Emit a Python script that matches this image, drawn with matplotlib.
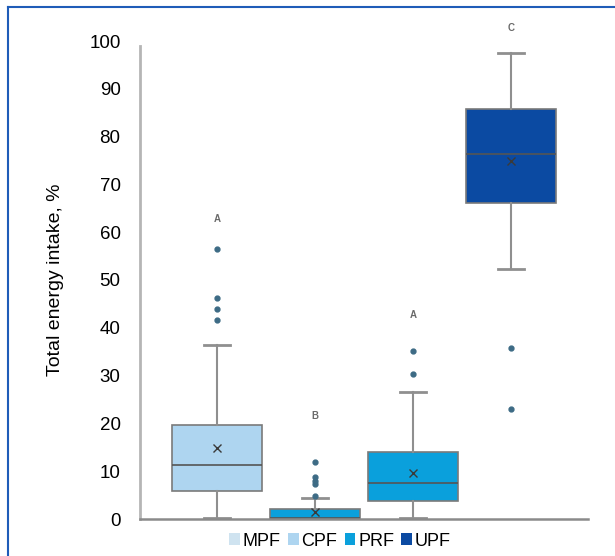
import numpy as np
import matplotlib.pyplot as plt
from matplotlib.patches import Patch
from matplotlib.lines import Line2D

plt.rcParams['font.family'] = ['Liberation Sans', 'DejaVu Sans']

groups = ['MPF', 'CPF', 'PRF', 'UPF']
q1 = [5.9, 0.0, 3.8, 66.2]
med = [11.3, 0.3, 7.6, 76.4]
q3 = [19.7, 2.0, 14.0, 85.7]
means = [14.9, 1.5, 9.6, 74.9]
whis_lo = [0.3, 0.0, 0.3, 52.3]
whis_hi = [36.3, 4.3, 26.6, 97.4]
fliers = [[41.6, 43.9, 46.3, 56.4],
          [4.8, 7.3, 8.0, 8.7, 12.0],
          [30.3, 35.1],
          [23.0, 35.8]]
letters = ['A', 'B', 'A', 'C']
letter_y = [62.8, 21.6, 42.7, 102.8]

box_colors = ['#aed5f0', '#0aa0dc', '#0aa0dc', '#0b4aa2']
legend_colors = ['#cfe3f0', '#aed5f0', '#0aa0dc', '#0b4aa2']

fig = plt.figure(figsize=(6.15, 5.56), dpi=100)
ax = fig.add_axes([140/615, 1-519/556, 448/615, 478/556])

stats = []
for i in range(len(groups)):
    stats.append(dict(q1=q1[i], med=med[i], q3=q3[i], mean=means[i],
                      whislo=whis_lo[i], whishi=whis_hi[i], fliers=fliers[i]))

pos = np.arange(1, len(groups)+1)
bp = ax.bxp(stats, positions=pos, widths=0.92, patch_artist=True,
            showmeans=True,
            boxprops=dict(edgecolor='#7a7a7a', linewidth=1.2),
            medianprops=dict(color='#555555', linewidth=1.2),
            whiskerprops=dict(color='#8f8f8f', linewidth=1.5),
            capprops=dict(color='#8f8f8f', linewidth=2.0),
            capwidths=0.27,
            meanprops=dict(marker='x', markeredgecolor='#3a3a3a', markersize=6,
                           markeredgewidth=1.0),
            flierprops=dict(marker='o', markerfacecolor='#3d6b85',
                            markeredgecolor='#3d6b85', markersize=3.5))
for b, c in zip(bp['boxes'], box_colors):
    b.set_facecolor(c)

for p, t, y in zip(pos, letters, letter_y):
    ax.text(p, y, t, ha='center', va='center', fontsize=7, fontweight='bold',
            color='#6a6a6a', clip_on=False)

ax.set_xlim(0.214, 4.786)
ax.set_ylim(0, 100)
ax.set_yticks(np.arange(0, 101, 10))
ax.set_xticks([])
ax.tick_params(axis='y', length=0, pad=14, labelsize=13.5)
for s in ['top', 'right']:
    ax.spines[s].set_visible(False)
ax.spines['left'].set_color('#b5b5b5')
ax.spines['left'].set_linewidth(2)
ax.spines['left'].set_bounds(0, 99)
ax.spines['bottom'].set_color('#8a8a8a')
ax.spines['bottom'].set_linewidth(1.8)
ax.set_ylabel('Total energy intake, %', fontsize=14)
ax.yaxis.set_label_coords((64-140)/448, 0.5)

handles = [Patch(facecolor=c, edgecolor='none') for c in legend_colors]
fig.legend(handles, groups, loc='center', bbox_to_anchor=(340/615, 1-541/556),
           ncol=4, frameon=False, fontsize=13, handlelength=0.6, handleheight=0.6,
           handletextpad=0.15, columnspacing=0.4, borderpad=0)

# blue frame around the figure (only top and left visible)
fig.add_artist(Line2D([8/615, 8/615], [0, 1-7/556], color='#1f5cb8', linewidth=1.5))
fig.add_artist(Line2D([8/615, 1], [1-7/556, 1-7/556], color='#1f5cb8', linewidth=1.5))

fig.savefig('out.png', dpi=100)
